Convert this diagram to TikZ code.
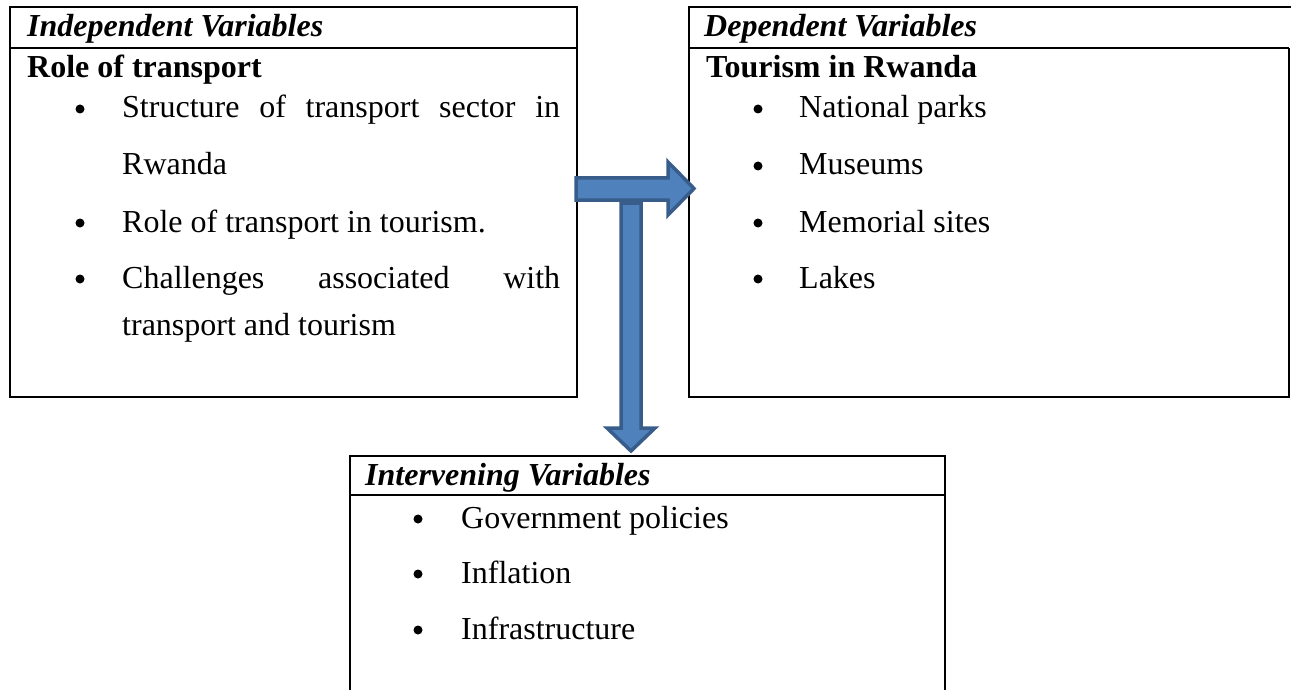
\documentclass[tikz,border=0pt]{standalone}
\usepackage{fontspec}
\setmainfont{Liberation Serif}
\definecolor{arrowfill}{HTML}{4F81BD}
\definecolor{arrowline}{HTML}{385D8A}
\tikzset{
  frame/.style={draw=black, line width=2.2pt},
  sepline/.style={draw=black, line width=1.6pt},
  hdr/.style={anchor=base west, inner sep=0pt, font=\fontsize{32}{38}\selectfont\bfseries\itshape},
  ttl/.style={anchor=base west, inner sep=0pt, font=\fontsize{32}{38}\selectfont\bfseries},
  itm/.style={anchor=base west, inner sep=0pt, font=\fontsize{32}{38}\selectfont},
  dot/.style={fill=black, circle, inner sep=0pt, minimum size=9pt},
  blockarrow/.style={fill=arrowfill, draw=arrowline, line width=3.5pt, line join=miter},
}
\begin{document}
\begin{tikzpicture}[x=1pt,y=-1pt]
\useasboundingbox (0,0) rectangle (1291,690);
% ---- left box: independent variables
\draw[frame] (10,7) rectangle (577,397);
\draw[sepline] (10,48) -- (577,48);
\node[hdr] (ih) at (27,37) {Independent Variables};
\node[ttl] (it) at (27,78) {Role of transport};
\node[dot] (ib1) at (80,109) {};
\node[itm] (i1) at (122,118) {\makebox[438pt][s]{Structure of transport sector in}};
\node[itm] (i1b) at (122,175) {Rwanda};
\node[dot] (ib2) at (80,223) {};
\node[itm] (i2) at (122,232) {Role of transport in tourism.};
\node[dot] (ib3) at (80,279) {};
\node[itm] (i3) at (122,288) {\makebox[438pt][s]{Challenges associated with}};
\node[itm] (i3b) at (122,335) {transport and tourism};
% ---- right box: dependent variables
\draw[frame] (1291,7) -- (689,7) -- (689,397) -- (1289,397) -- (1289,48);
\draw[sepline] (689,48) -- (1289,48);
\node[hdr] (dh) at (704,37) {Dependent Variables};
\node[ttl] (dt) at (706,78) {Tourism in Rwanda};
\node[dot] (db1) at (758,109) {};
\node[itm] (d1) at (799,118) {National parks};
\node[dot] (db2) at (758,166) {};
\node[itm] (d2) at (799,175) {Museums};
\node[dot] (db3) at (758,223) {};
\node[itm] (d3) at (799,232) {Memorial sites};
\node[dot] (db4) at (758,279) {};
\node[itm] (d4) at (799,288) {Lakes};
% ---- bottom box: intervening variables
\draw[frame] (350,690) -- (350,456) -- (945,456) -- (945,690);
\draw[sepline] (350,495) -- (945,495);
\node[hdr] (vh) at (365,485) {Intervening Variables};
\node[dot] (vb1) at (418,519) {};
\node[itm] (v1) at (461,528) {Government policies};
\node[dot] (vb2) at (418,574) {};
\node[itm] (v2) at (461,583) {Inflation};
\node[dot] (vb3) at (418,630) {};
\node[itm] (v3) at (461,639) {Infrastructure};
% ---- block arrows
\draw[blockarrow] (576,178) -- (668,178) -- (668,162) -- (694,188.5) -- (668,215) -- (668,200) -- (576,200) -- cycle;
\draw[blockarrow] (621,203) -- (641,203) -- (641,428) -- (655,428) -- (631,451) -- (607,428) -- (621,428) -- cycle;
\end{tikzpicture}
\end{document}
